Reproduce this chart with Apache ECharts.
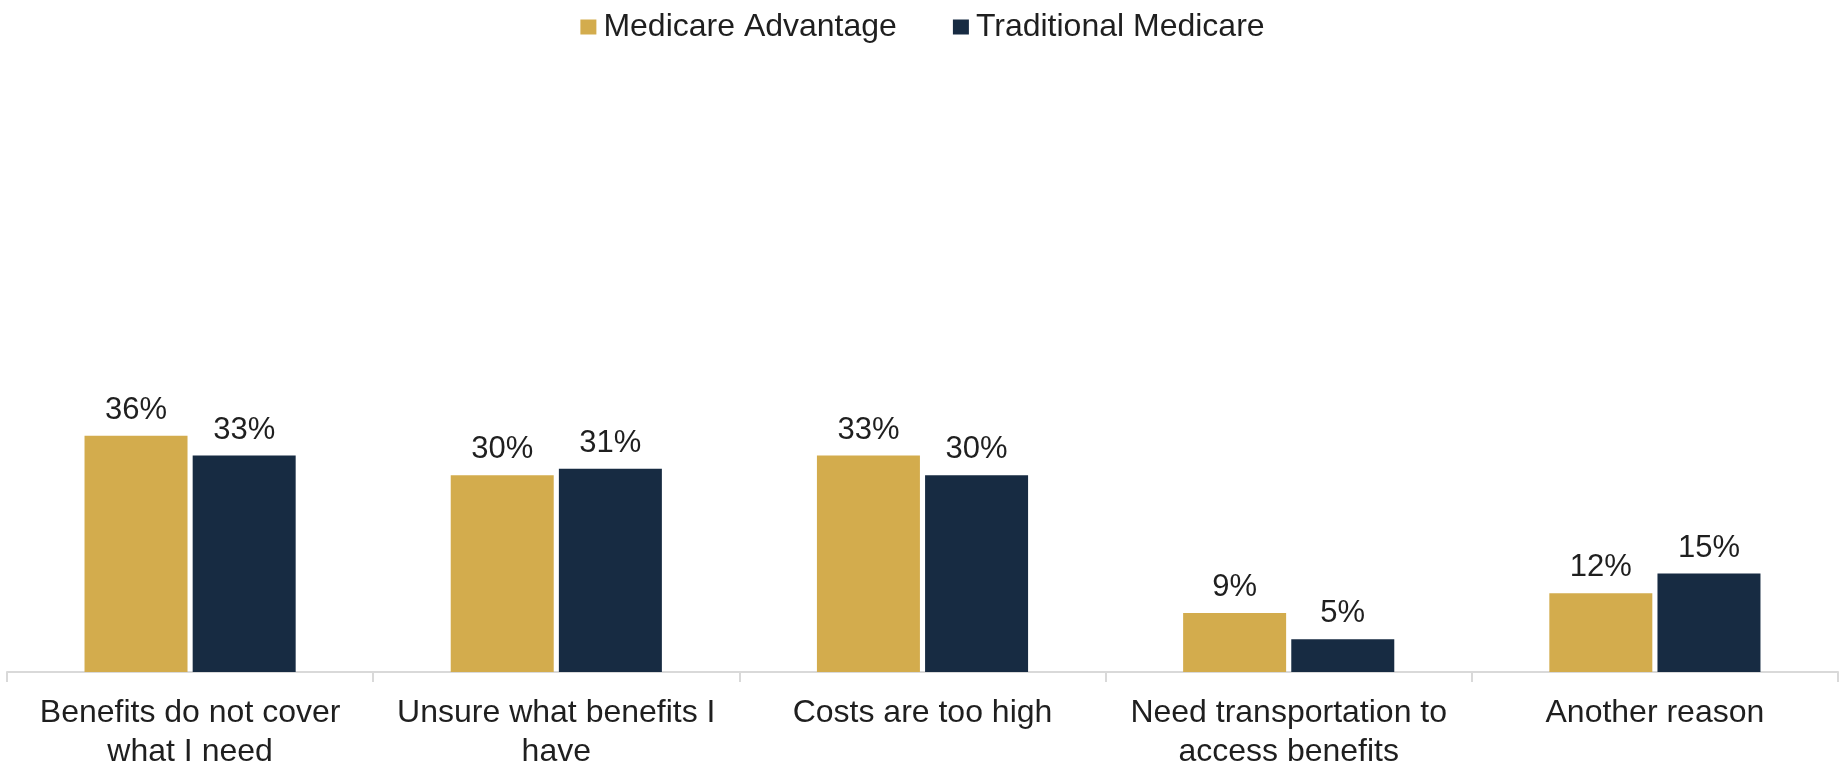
<!DOCTYPE html>
<html>
<head>
<meta charset="utf-8">
<script src="https://cdn.jsdelivr.net/npm/echarts@6/dist/echarts.min.js"></script>
<style>
html,body{margin:0;padding:0;background:#fff;}
#chart{width:1845px;height:772px;}
</style>
</head>
<body>
<div id="chart"></div>
<script>
const categories = [
  "Benefits do not cover\nwhat I need",
  "Unsure what benefits I\nhave",
  "Costs are too high",
  "Need transportation to\naccess benefits",
  "Another reason"
];
const seriesNames = ["Medicare Advantage", "Traditional Medicare"];
const medicareAdvantage = [36, 30, 33, 9, 12];
const traditionalMedicare = [33, 31, 30, 5, 15];

const FONT = '"Liberation Sans", Arial, sans-serif';
const chart = echarts.init(document.getElementById('chart'));
const labelCfg = {
  show: true,
  position: 'top',
  distance: 10,
  formatter: p => p.value + '%',
  fontFamily: FONT,
  fontSize: 31,
  color: '#1f1f1f'
};
chart.setOption({
  animation: false,
  textStyle: { fontFamily: FONT },
  legend: {
    top: 6,
    left: 'center',
    itemWidth: 16,
    itemHeight: 15,
    itemGap: 56,
    icon: 'rect',
    textStyle: { fontSize: 32, color: '#1f1f1f', fontFamily: FONT, padding: [0, 0, 0, 2] },
    data: seriesNames
  },
  grid: { left: 7, right: 7, top: 16, bottom: 99, containLabel: false },
  xAxis: {
    type: 'category',
    data: categories,
    axisLine: { lineStyle: { color: '#d9d9d9', width: 2 } },
    axisTick: { show: true, length: 10, lineStyle: { color: '#d9d9d9', width: 2 } },
    axisLabel: {
      interval: 0,
      margin: 22,
      fontSize: 32,
      lineHeight: 39,
      color: '#1f1f1f',
      fontFamily: FONT
    }
  },
  yAxis: {
    type: 'value',
    min: 0,
    max: 100,
    show: false,
    splitLine: { show: false }
  },
  series: [
    {
      name: seriesNames[0],
      type: 'bar',
      data: medicareAdvantage,
      barWidth: 103,
      barGap: '5%',
      itemStyle: { color: '#D3AC4D' },
      label: labelCfg
    },
    {
      name: seriesNames[1],
      type: 'bar',
      data: traditionalMedicare,
      barWidth: 103,
      barGap: '5%',
      itemStyle: { color: '#172B42' },
      label: labelCfg
    }
  ]
});
</script>
</body>
</html>
